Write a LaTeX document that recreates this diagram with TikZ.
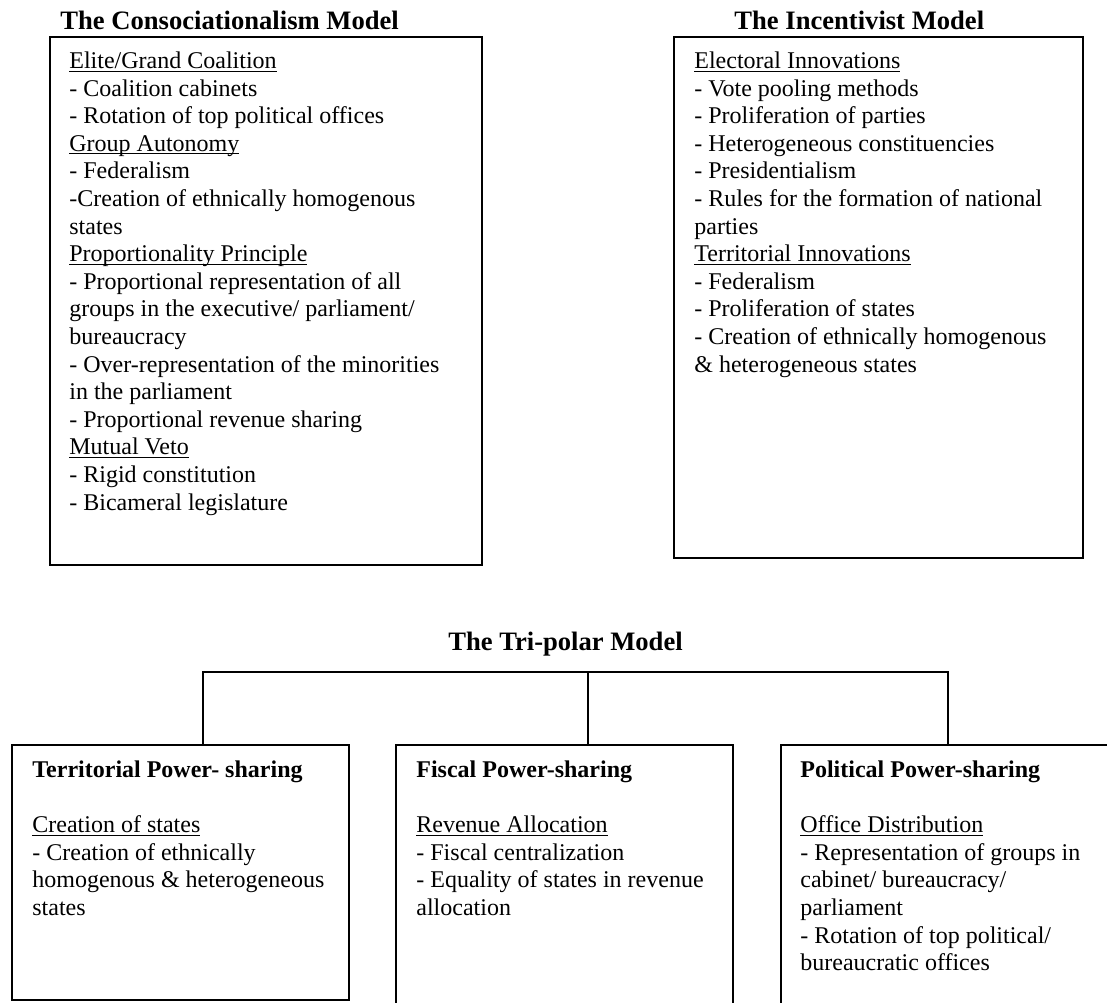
\documentclass[tikz,border=0pt]{standalone}
\usepackage{fontspec}
\setmainfont{Liberation Serif}
\newsavebox\myulbox
\newcommand\myul[1]{\sbox\myulbox{#1}\rlap{\rule[-1.6pt]{\wd\myulbox}{0.55pt}}\usebox\myulbox}
\begin{document}
\begin{tikzpicture}[x=0.5pt,y=-0.5pt,
  frame/.style={draw, line width=0.9pt, inner sep=0pt, anchor=north west},
  body/.style={font=\fontsize{12}{13.8}\selectfont, align=left, inner sep=0pt, anchor=north west},
  ttl/.style={font=\fontsize{13.3}{15}\selectfont\bfseries, inner sep=0pt},
  link/.style={line width=0.9pt}]
\useasboundingbox (0,0) rectangle (1107,1002);
\clip (0,0) rectangle (1107,1002);
\fill[white] (0,0) rectangle (1107,1002);

% Top titles
\node[ttl, anchor=base west] (ctitle) at (60,29) {The Consociationalism Model};
\node[ttl, anchor=base west] (ititle) at (734,29) {The Incentivist Model};

% Top boxes
\node[frame, minimum width=216pt, minimum height=264pt] (cbox) at (49,36) {};
\node[frame, minimum width=204.5pt, minimum height=260.5pt] (ibox) at (673,36) {};

\node[body] (ctext) at (69,48.7) {\strut\myul{Elite/Grand Coalition}\\
- Coalition cabinets\\
- Rotation of top political offices\\
\myul{Group Autonomy}\\
- Federalism\\
-Creation of ethnically homogenous\\
states\\
\myul{Proportionality Principle}\\
- Proportional representation of all\\
groups in the executive/ parliament/\\
bureaucracy\\
- Over-representation of the minorities\\
in the parliament\\
- Proportional revenue sharing\\
\myul{Mutual Veto}\\
- Rigid constitution\\
- Bicameral legislature};

\node[body] (itext) at (694,48.7) {\strut\myul{Electoral Innovations}\\
- Vote pooling methods\\
- Proliferation of parties\\
- Heterogeneous constituencies\\
- Presidentialism\\
- Rules for the formation of national\\
parties\\
\myul{Territorial Innovations}\\
- Federalism\\
- Proliferation of states\\
- Creation of ethnically homogenous\\
\& heterogeneous states};

% Tri-polar
\node[ttl, anchor=base] (ttitle) at (565.5,650) {The Tri-polar Model};

\node[frame, minimum width=168.5pt, minimum height=127.5pt] (tbox) at (11,744) {};
\node[frame, minimum width=168.5pt, minimum height=140pt] (fbox) at (395,744) {};
\node[frame, minimum width=175pt, minimum height=140pt] (pbox) at (780,744) {};

\coordinate (tl) at (203,672);
\coordinate (hub) at (588,672);
\coordinate (tr) at (948,672);
\draw[link] (tbox.north -| tl) -- (tl) -- (hub) -- (tr) -- (pbox.north -| tr);
\draw[link] (hub) -- (fbox.north -| hub);

\node[body] (ttext) at (32,757.7) {\strut\textbf{Territorial Power- sharing}\\[13.8pt]
\myul{Creation of states}\\
- Creation of ethnically\\
homogenous \& heterogeneous\\
states};

\node[body] (ftext) at (416,757.7) {\strut\textbf{Fiscal Power-sharing}\\[13.8pt]
\myul{Revenue Allocation}\\
- Fiscal centralization\\
- Equality of states in revenue\\
allocation};

\node[body] (ptext) at (800,757.7) {\strut\textbf{Political Power-sharing}\\[13.8pt]
\myul{Office Distribution}\\
- Representation of groups in\\
cabinet/ bureaucracy/\\
parliament\\
- Rotation of top political/\\
bureaucratic offices};
\end{tikzpicture}
\end{document}
